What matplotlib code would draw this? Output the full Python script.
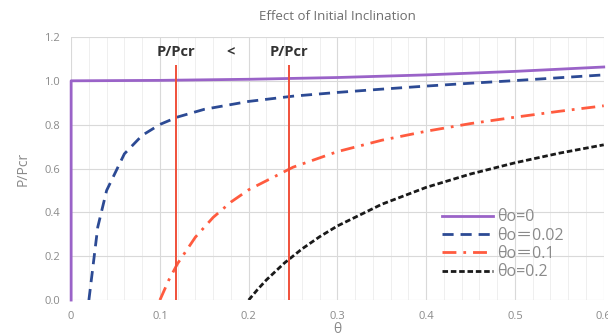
import matplotlib

matplotlib.use("Agg")

import matplotlib.pyplot as plt
from matplotlib.ticker import MultipleLocator

# values
theta_0 = [0.0, 0.0, 0.1, 0.2, 0.3, 0.4, 0.5, 0.6]
load_0 = [0.0, 1.0, 1.002, 1.007, 1.015, 1.027, 1.043, 1.063]

theta_002 = [0.02, 0.03, 0.04, 0.06, 0.08, 0.10, 0.12, 0.15, 0.20, 0.25,
             0.30, 0.35, 0.40, 0.45, 0.50, 0.55, 0.60]
load_002 = [0.0, 0.333, 0.500, 0.667, 0.751, 0.801, 0.835, 0.870, 0.906, 0.930,
            0.947, 0.962, 0.976, 0.989, 1.001, 1.014, 1.027]

theta_01 = [0.10, 0.11, 0.12, 0.14, 0.16, 0.18, 0.20, 0.25, 0.30, 0.35,
            0.40, 0.45, 0.50, 0.55, 0.60]
load_01 = [0.0, 0.091, 0.167, 0.287, 0.377, 0.447, 0.503, 0.606, 0.677, 0.729,
           0.770, 0.805, 0.834, 0.861, 0.886]

theta_02 = [0.20, 0.21, 0.22, 0.24, 0.26, 0.28, 0.30, 0.35, 0.40, 0.45,
            0.50, 0.55, 0.60]
load_02 = [0.0, 0.048, 0.092, 0.168, 0.233, 0.289, 0.338, 0.437, 0.514, 0.575,
           0.626, 0.670, 0.708]

marker_x = [0.118, 0.245]
marker_top = 1.07
annot_labels = ["P/Pcr", "<", "P/Pcr"]
annot_x = [0.118, 0.18, 0.245]

GREY = "#8a8a8a"
FONT = ["Open Sans", "Noto Sans CJK JP", "DejaVu Sans"]
plt.rcParams["font.family"] = FONT

fig = plt.figure(figsize=(6.08, 3.36), dpi=100)
ax = fig.add_axes([0.117, 0.107, 0.876, 0.783])

ax.plot(theta_0, load_0, color="#9a63c8", lw=2.0, label="θo=0", clip_on=False)
ax.plot(theta_002, load_002, color="#2c4a94", lw=2.0, ls=(0, (4, 2.5)),
        label="θo＝0.02")
ax.plot(theta_01, load_01, color="#ff5b3f", lw=2.0, ls=(0, (5, 2.5, 1, 2.5)),
        label="θo＝0.1")
ax.plot(theta_02, load_02, color="#1a1a1a", lw=2.0, ls=(0, (2, 1)),
        label="θo=0.2")

ax.vlines(marker_x, 0, marker_top, color="#f0503a", lw=1.4, zorder=3)
for xv, txt in zip(annot_x, annot_labels):
    ax.text(xv, 1.13, txt, ha="center", va="center", fontsize=10.5,
            fontweight="bold", color="#333333")

ax.set_xlim(0, 0.6)
ax.set_ylim(0, 1.2)
ax.xaxis.set_major_locator(MultipleLocator(0.1))
ax.xaxis.set_minor_locator(MultipleLocator(0.02))
ax.yaxis.set_major_locator(MultipleLocator(0.2))
ax.xaxis.set_major_formatter(lambda v, p: "0" if abs(v) < 1e-9 else f"{v:.1f}")
ax.yaxis.set_major_formatter(lambda v, p: f"{v:.1f}")
ax.grid(which="major", color="#d9d9d9", lw=0.8)
ax.grid(which="minor", axis="x", color="#ececec", lw=0.6)
ax.set_axisbelow(True)
for s in ax.spines.values():
    s.set_visible(False)
ax.tick_params(which="both", length=0, labelsize=8, labelcolor=GREY, pad=8)
ax.set_xlabel("θ", fontsize=10, color=GREY, labelpad=0)
ax.set_ylabel("P/Pcr", fontsize=10, color=GREY, labelpad=10)
ax.set_title("Effect of Initial Inclination", fontsize=9.5, color="#6e6e6e", pad=12)

ax.legend(loc="upper left", bbox_to_anchor=(0.67, 0.40), frameon=False,
          handlelength=3.2, handletextpad=0.2, labelspacing=0.15,
          fontsize=11.5, labelcolor=GREY)

fig.savefig("out.png", dpi=100)
